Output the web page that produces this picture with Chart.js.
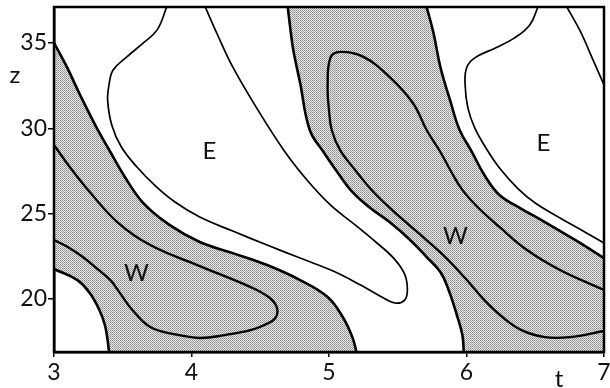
<!DOCTYPE html>
<html>
<head>
<meta charset="utf-8">
<script src="https://cdn.jsdelivr.net/npm/chart.js@4.4.1/dist/chart.umd.min.js"></script>
<style>
  html, body { margin: 0; padding: 0; background: #fff; }
  #wrap { width: 610px; height: 388px; }
</style>
</head>
<body>
<div id="wrap"><canvas id="chart" width="610" height="388"></canvas></div>
<script>
// axes
const tRange = [3, 7];
const zRange = [16.9, 37.1];
const tTicks = [3, 4, 5, 6, 7];
const zTicks = [20, 25, 30, 35];

// contour lines as [t, z] pairs
// edge of the first westward band (upper side)
const westEdge = [
  [3.00, 35.00], [3.09, 33.65], [3.19, 31.95], [3.30, 30.19], [3.41, 28.61],
  [3.52, 27.09], [3.65, 25.62], [3.84, 24.34], [4.06, 23.34], [4.30, 22.69],
  [4.55, 21.99], [4.79, 21.11], [4.99, 20.12], [5.10, 18.95], [5.17, 17.77],
  [5.20, 16.90]
];
// edge of the first westward band (lower left corner)
const cornerEdge = [
  [3.00, 21.76], [3.17, 21.11], [3.26, 20.35], [3.33, 19.36], [3.37, 18.48],
  [3.39, 17.60], [3.40, 16.90]
];
// stronger westward contour inside the first band
const westInner = [
  [3.00, 29.02], [3.12, 27.67], [3.26, 26.27], [3.46, 24.51], [3.70, 23.16],
  [4.06, 21.93], [4.43, 20.70], [4.56, 20.12], [4.62, 19.53], [4.61, 18.89],
  [4.53, 18.48], [4.43, 18.18], [4.24, 17.89], [4.06, 17.72], [3.87, 17.95],
  [3.70, 18.36], [3.57, 19.36], [3.48, 20.35], [3.41, 21.11], [3.30, 21.87],
  [3.21, 22.46], [3.10, 23.05], [3.00, 23.46]
];
// stronger eastward contour, left
const eastInner = [
  [3.82, 37.10], [3.75, 35.76], [3.65, 35.00], [3.53, 34.18], [3.43, 33.41],
  [3.40, 32.54], [3.39, 31.66], [3.42, 30.19], [3.49, 28.90], [3.61, 27.67],
  [3.73, 26.68], [3.88, 25.68], [4.06, 24.80], [4.30, 23.98], [4.55, 23.16],
  [4.79, 22.40], [5.03, 21.64], [5.23, 20.82], [5.37, 20.18], [5.48, 19.77],
  [5.55, 19.94], [5.57, 20.53], [5.55, 21.46], [5.47, 22.40], [5.34, 23.34],
  [5.19, 24.34], [5.01, 25.51], [4.84, 26.97], [4.67, 28.73], [4.46, 31.37],
  [4.30, 33.59], [4.19, 35.46], [4.10, 37.10]
];
// second westward band, left and right edges
const midLeft = [
  [4.70, 37.10], [4.72, 35.76], [4.74, 34.59], [4.79, 32.65], [4.86, 29.90],
  [4.96, 28.61], [5.06, 27.44], [5.17, 26.27], [5.30, 25.33], [5.44, 24.51],
  [5.59, 23.46], [5.71, 22.46], [5.81, 21.58], [5.87, 20.53], [5.93, 19.06],
  [5.97, 17.89], [5.98, 16.90]
];
const midRight = [
  [5.71, 37.10], [5.76, 35.58], [5.81, 33.59], [5.88, 31.66], [5.95, 29.90],
  [6.04, 28.61], [6.13, 27.26], [6.24, 26.09], [6.39, 25.33], [6.57, 24.51],
  [6.79, 23.46], [7.00, 22.40]
];
// stronger westward contour inside the second band
const midInner = [
  [7.00, 18.13], [6.75, 17.77], [6.57, 17.77], [6.40, 18.18], [6.27, 18.89],
  [6.13, 19.94], [5.99, 21.23], [5.83, 22.58], [5.65, 23.87], [5.46, 25.21],
  [5.31, 26.39], [5.19, 27.56], [5.08, 28.73], [5.02, 29.90], [5.00, 31.07],
  [4.99, 32.42], [5.01, 34.12], [5.08, 34.47], [5.25, 34.18], [5.44, 33.01],
  [5.61, 31.48], [5.71, 29.90], [5.81, 28.61], [5.89, 27.44], [5.97, 26.39],
  [6.08, 25.39], [6.24, 24.22], [6.44, 22.87], [6.68, 21.70], [7.00, 20.53]
];
// stronger eastward contour, right
const eastRight = [
  [6.52, 37.10], [6.46, 36.05], [6.35, 35.29], [6.21, 34.70], [6.06, 34.12],
  [6.00, 33.53], [5.99, 32.54], [6.01, 31.19], [6.06, 30.02], [6.15, 28.73],
  [6.24, 27.67], [6.37, 26.50], [6.50, 25.62], [6.68, 24.75], [6.86, 23.93],
  [7.00, 23.28]
];
const cornerLine = [[6.73, 37.10], [6.83, 35.64], [6.92, 34.00], [7.00, 32.54]];

const regionLabels = [
  { text: 'E', t: 4.13, z: 28.67 },
  { text: 'E', t: 6.56, z: 29.14 },
  { text: 'W', t: 3.60, z: 21.52 },
  { text: 'W', t: 5.92, z: 23.69 }
];

const pts = arr => arr.map(([t, z]) => ({ x: t, y: z }));

// shaded areas: band edges joined along the frame
const westPoly = [...westEdge, ...cornerEdge.slice().reverse()];
const midPoly = [...midLeft, [tRange[1], zRange[0]], ...midRight.slice().reverse()];

function halftone(ctx) {
  const c = document.createElement('canvas');
  c.width = 2; c.height = 2;
  const g = c.getContext('2d');
  g.fillStyle = '#e8e8e8'; g.fillRect(0, 0, 2, 2);
  g.fillStyle = '#8a8a8a'; g.fillRect(0, 0, 1, 1);
  g.fillStyle = '#a4a4a4'; g.fillRect(1, 1, 1, 1);
  return ctx.createPattern(c, 'repeat');
}

const canvas = document.getElementById('chart');
const shade = halftone(canvas.getContext('2d'));

const area = data => ({
  data: pts(data), showLine: true, fill: 'shape', backgroundColor: shade,
  borderWidth: 0, pointRadius: 0, tension: 0
});
const contour = (data, w) => ({
  data: pts(data), showLine: true, fill: false, borderColor: '#000',
  borderWidth: w, pointRadius: 0, tension: 0.4
});

const annotate = {
  id: 'annotate',
  afterDatasetsDraw(chart) {
    const { ctx, chartArea: a, scales: { x, y } } = chart;
    ctx.save();
    ctx.strokeStyle = '#000';
    ctx.lineWidth = 2.5;
    ctx.strokeRect(a.left, a.top, a.right - a.left, a.bottom - a.top);
    ctx.fillStyle = '#111';
    ctx.font = '24px Lato';
    ctx.textAlign = 'center';
    ctx.textBaseline = 'middle';
    regionLabels.forEach(l => ctx.fillText(l.text, x.getPixelForValue(l.t), y.getPixelForValue(l.z)));
    ctx.fillText('z', a.left - 39, a.top + 68);
    ctx.fillText('t', a.right - 45, a.bottom + 27);
    ctx.restore();
  }
};

new Chart(canvas, {
  type: 'scatter',
  data: {
    datasets: [
      area(westPoly),
      area(midPoly),
      contour(westEdge, 2.6),
      contour(cornerEdge, 2.6),
      contour(midLeft, 2.6),
      contour(midRight, 2.6),
      contour(westInner, 2.3),
      contour(midInner, 2.3),
      contour(eastInner, 1.7),
      contour(eastRight, 1.7),
      contour(cornerLine, 1.7)
    ]
  },
  options: {
    responsive: false,
    animation: false,
    layout: { padding: { top: 7, right: 6, left: 0, bottom: 0 } },
    plugins: {
      legend: { display: false },
      tooltip: { enabled: false },
      filler: { drawTime: 'beforeDatasetsDraw' }
    },
    scales: {
      x: {
        type: 'linear', min: tRange[0], max: tRange[1],
        afterBuildTicks: s => { s.ticks = tTicks.map(v => ({ value: v })); },
        afterFit: s => { s.height = 36; s.paddingLeft = 0; s.paddingRight = 0; },
        grid: { drawOnChartArea: false, tickLength: 5, color: '#000', lineWidth: 1.5 },
        border: { color: '#000', width: 2.5 },
        ticks: { color: '#111', padding: 2, font: { family: 'Lato', size: 23 } }
      },
      y: {
        type: 'linear', min: zRange[0], max: zRange[1],
        afterBuildTicks: s => { s.ticks = zTicks.map(v => ({ value: v })); },
        afterFit: s => { s.width = 54; s.paddingTop = 0; s.paddingBottom = 0; },
        grid: { drawOnChartArea: false, tickLength: 6, color: '#000', lineWidth: 1.5 },
        border: { color: '#000', width: 2.5 },
        ticks: { color: '#111', padding: 1, font: { family: 'Lato', size: 23 } }
      }
    }
  },
  plugins: [annotate]
});
</script>
</body>
</html>
